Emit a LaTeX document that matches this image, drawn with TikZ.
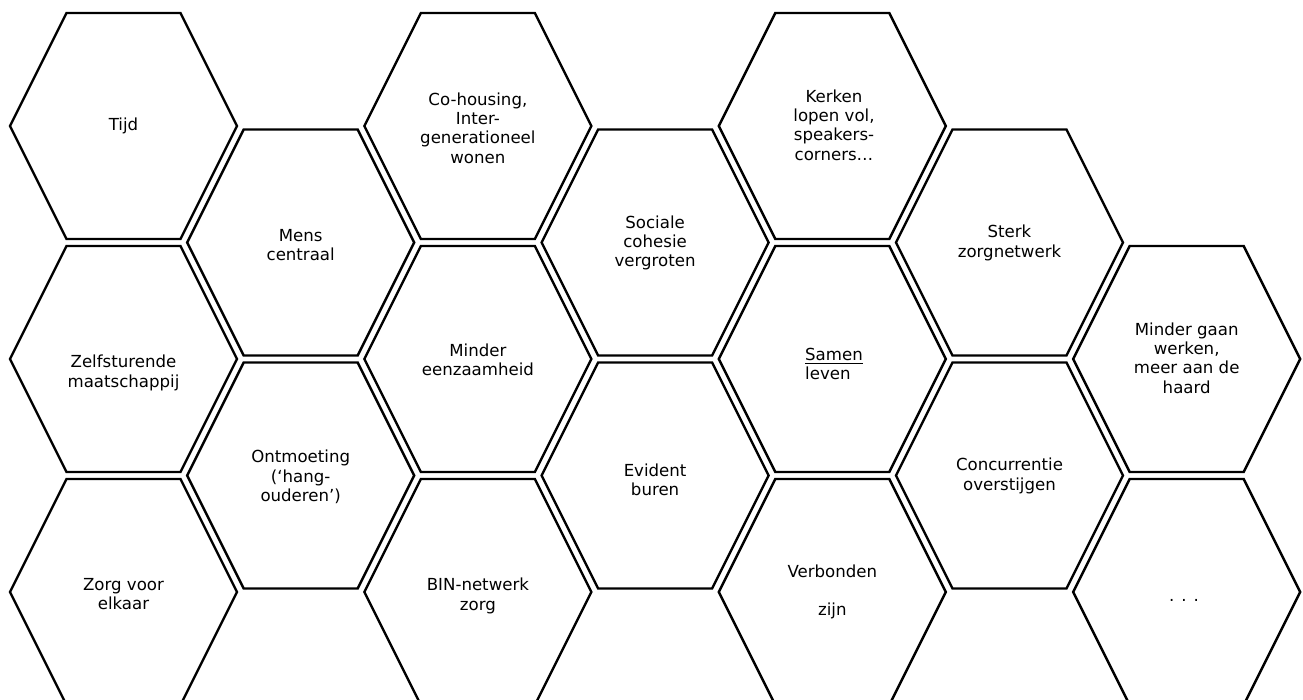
\documentclass[tikz,border=0pt]{standalone}
\usepackage{fontspec}
\setmainfont{DejaVu Sans}

\begin{document}
\begin{tikzpicture}[x=0.5pt, y=-0.5pt, every node/.style={font=\fontsize{8.3}{9.7}\selectfont, align=center, inner sep=0pt}]
  \tikzstyle{hexcell}=[draw=black, line width=1.2pt, line join=miter]
  \useasboundingbox (0,0) rectangle (1303,700);
  % honeycomb: columns 177.2 apart, rows 233 apart
  \foreach \cx/\cy in {123.5/126, 123.5/359, 123.5/592,
                       300.7/242.5, 300.7/475.5,
                       477.9/126, 477.9/359, 477.9/592,
                       655.1/242.5, 655.1/475.5,
                       832.3/126, 832.3/359, 832.3/592,
                       1009.5/242.5, 1009.5/475.5,
                       1186.7/359, 1186.7/592}
    \draw[hexcell] (\cx-113.5,\cy) -- (\cx-57,\cy-113) -- (\cx+57,\cy-113)
      -- (\cx+113.5,\cy) -- (\cx+57,\cy+113) -- (\cx-57,\cy+113) -- cycle;
  % column 1
  \node (tijd) at (123.5,126) {Tijd};
  \node (zelfsturend) at (123.5,373) {Zelfsturende\\maatschappij};
  \node (zorg) at (123.5,594) {Zorg voor\\elkaar};
  % column 2
  \node (mens) at (300.7,245) {Mens\\centraal};
  \node (ontmoeting) at (300.7,477) {Ontmoeting\\(‘hang-\\ouderen’)};
  % column 3
  \node (cohousing) at (477.9,128) {Co-housing,\\Inter-\\generationeel\\wonen};
  \node (eenzaam) at (477.9,360) {Minder\\eenzaamheid};
  \node (bin) at (477.9,596) {BIN-netwerk\\zorg};
  % column 4
  \node (cohesie) at (655.1,243) {Sociale\\cohesie\\vergroten};
  \node (buren) at (655.1,480) {Evident\\buren};
  % column 5
  \node (kerken) at (834,125) {Kerken\\lopen vol,\\speakers-\\corners…};
  \node[align=left] (samen) at (834,364) {\underline{Samen}\\leven};
  \node (verbonden) at (832.3,592) {Verbonden\\[9.7pt]zijn};
  % column 6
  \node (sterk) at (1009.5,243) {Sterk\\zorgnetwerk};
  \node (concurrentie) at (1009.5,476) {Concurrentie\\overstijgen};
  % column 7
  \node (haard) at (1186.7,358) {Minder gaan\\werken,\\meer aan de\\haard};
  \node (meer) at (1184,600) {. . .};
\end{tikzpicture}
\end{document}
